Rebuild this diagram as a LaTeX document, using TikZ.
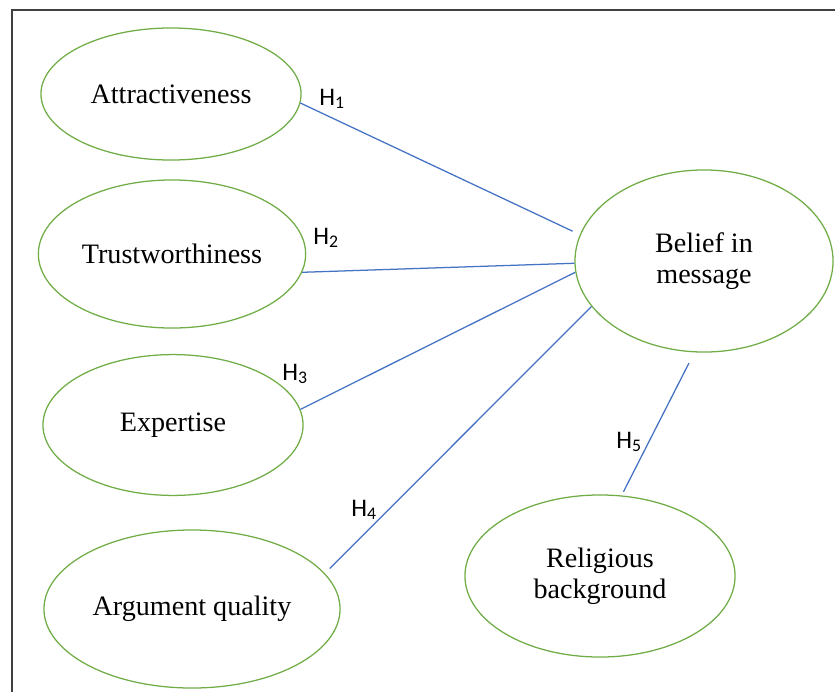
\documentclass[tikz,border=0pt]{standalone}
\usepackage{fontspec}
\setmainfont{Liberation Serif}
\newfontfamily\hypfont{Carlito}
\usetikzlibrary{shapes.geometric}
\definecolor{ovalgreen}{RGB}{112,173,71}
\definecolor{linkblue}{RGB}{68,114,196}
\definecolor{framegray}{RGB}{64,64,64}
\tikzset{construct/.style={draw=ovalgreen, line width=0.9pt, ellipse, inner sep=0pt, align=center, font=\fontsize{20}{22}\selectfont},
         link/.style={draw=linkblue, line width=0.9pt},
         hyp/.style={inner sep=0pt, font=\hypfont\fontsize{18}{20}\selectfont}}

\begin{document}
\begin{tikzpicture}[x=0.025cm,y=-0.025cm]
    \useasboundingbox (0,0) rectangle (835,691);
    \draw[framegray, line width=1.4pt] (12,700) -- (12,10) -- (845,10);

    \node[construct, minimum width=6.5cm, minimum height=3.3cm] (attr) at (171,94) {Attractiveness};
    \node[construct, minimum width=6.68cm, minimum height=3.7cm] (trust) at (172,254) {Trustworthiness};
    \node[construct, minimum width=6.5cm, minimum height=3.52cm] (expert) at (173,425) {Expertise};
    \node[construct, minimum width=7.4cm, minimum height=3.95cm] (argq) at (192,609) {Argument quality};
    \node[construct, minimum width=6.45cm, minimum height=4.55cm] (belief) at (704,261) {Belief in\\message};
    \node[construct, minimum width=6.75cm, minimum height=4.05cm] (relig) at (600,576) {Religious\\background};

    \draw[link, shorten >=0.2cm] (attr.-4) -- (belief.168);
    \draw[link] (trust.-8) -- (belief.181);
    \draw[link] (expert.7) -- (belief.185);
    \draw[link, shorten <=0.17cm] (argq.15) -- (belief.202);
    \draw[link, shorten <=0.3cm, shorten >=0.1cm] (belief.264) -- (relig.75);

    \node[hyp] (h1) at (332,99) {H\textsubscript{1}};
    \node[hyp] (h2) at (326,238) {H\textsubscript{2}};
    \node[hyp] (h3) at (295,374) {H\textsubscript{3}};
    \node[hyp] (h4) at (364,510) {H\textsubscript{4}};
    \node[hyp] (h5) at (629,442) {H\textsubscript{5}};
\end{tikzpicture}
\end{document}
